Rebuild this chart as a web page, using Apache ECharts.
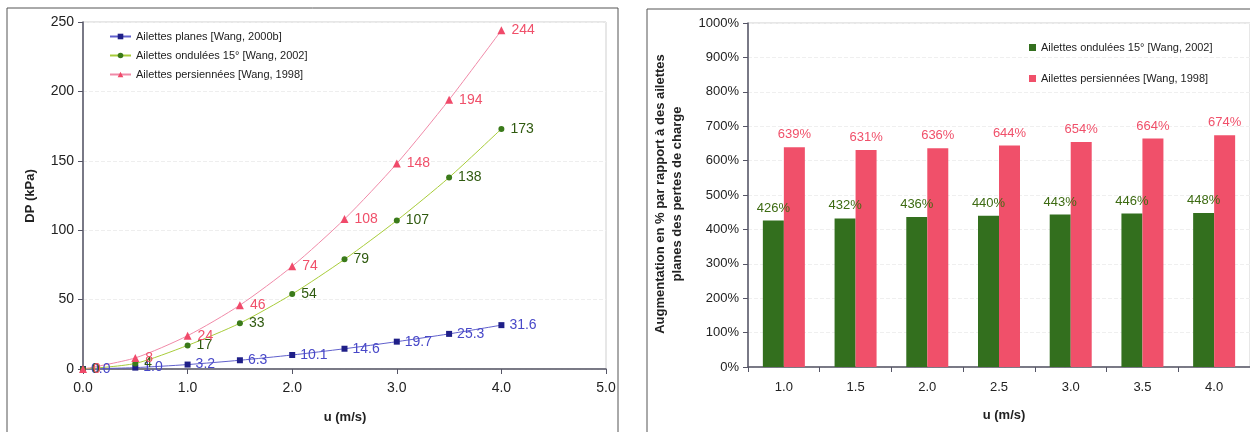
<!DOCTYPE html>
<html><head><meta charset="utf-8">
<script src="https://cdn.jsdelivr.net/npm/echarts@6/dist/echarts.min.js"></script>
<style>html,body{margin:0;padding:0;background:#fff}#c{width:1250px;height:432px}</style>
</head><body><div id="c"></div>
<script>
// ---- data ----
const speeds = [0, 0.5, 1.0, 1.5, 2.0, 2.5, 3.0, 3.5, 4.0];
const dpPlanes = [0.0, 1.0, 3.2, 6.3, 10.1, 14.6, 19.7, 25.3, 31.6];
const dpOndulees = [0, 4, 17, 33, 54, 79, 107, 138, 173];
const dpPersiennes = [0, 8, 24, 46, 74, 108, 148, 194, 244];
const barCategories = ['1.0', '1.5', '2.0', '2.5', '3.0', '3.5', '4.0'];
const incOndulees = [426, 432, 436, 440, 443, 446, 448];
const incPersiennes = [639, 631, 636, 644, 654, 664, 674];
const nameP = 'Ailettes planes [Wang, 2000b]';
const nameO = 'Ailettes ondulées 15° [Wang, 2002]';
const nameS = 'Ailettes persiennées [Wang, 1998]';
const nameO2 = 'Ailettes ondulées 15° [Wang, 2002] ';
const nameS2 = 'Ailettes persiennées [Wang, 1998] ';

const pairs = (ys) => speeds.map((x, i) => [x, ys[i]]);
const font = 'Liberation Sans, Arial, sans-serif';

const chart = echarts.init(document.getElementById('c'), null, {renderer: 'canvas'});
chart.setOption({
  animation: false,
  textStyle: {fontFamily: font},
  grid: [
    {left: 83, top: 22, width: 523, height: 347, show: true, borderColor: '#cfcfcf', borderWidth: 1},
    {left: 748, top: 23, width: 508, height: 344, show: true, borderColor: '#cfcfcf', borderWidth: 1}
  ],
  legend: [
    {data: [nameP, nameO, nameS], orient: 'vertical', left: 104, top: 26, itemGap: 8,
     itemWidth: 21, itemHeight: 7, textStyle: {fontSize: 11, color: '#222', fontFamily: font}},
    {data: [nameO2, nameS2], orient: 'vertical', left: 1024, top: 37, itemGap: 20, icon: 'rect',
     itemWidth: 7, itemHeight: 7, textStyle: {fontSize: 11, color: '#222', fontFamily: font}}
  ],
  xAxis: [
    {type: 'value', gridIndex: 0, min: 0, max: 5, interval: 1,
     axisLine: {lineStyle: {color: '#555566', width: 1.5}},
     axisTick: {show: true, length: 5, lineStyle: {color: '#555566'}},
     axisLabel: {fontSize: 14, color: '#222', margin: 12, formatter: v => v.toFixed(1)},
     splitLine: {show: false}},
    {type: 'category', gridIndex: 1, data: barCategories,
     axisLine: {lineStyle: {color: '#555566', width: 1.5}},
     axisTick: {show: true, length: 5, lineStyle: {color: '#555566'}},
     axisLabel: {fontSize: 13, color: '#222', margin: 14}}
  ],
  yAxis: [
    {type: 'value', gridIndex: 0, min: 0, max: 250, interval: 50,
     axisLine: {show: true, lineStyle: {color: '#555566', width: 1.5}},
     axisTick: {show: true, length: 5, lineStyle: {color: '#555566'}},
     axisLabel: {fontSize: 14, color: '#222', margin: 9},
     splitLine: {show: true, lineStyle: {color: '#eeeeee', type: 'dashed'}}},
    {type: 'value', gridIndex: 1, min: 0, max: 1000, interval: 100,
     axisLine: {show: true, lineStyle: {color: '#555566', width: 1.5}},
     axisTick: {show: true, length: 5, lineStyle: {color: '#555566'}},
     axisLabel: {fontSize: 13, color: '#222', margin: 9, formatter: v => String(v) + '%'},
     splitLine: {show: true, lineStyle: {color: '#efefef', type: 'dashed'}}}
  ],
  graphic: [
    {type: 'rect', shape: {x: 7, y: 8, width: 611, height: 440}, style: {fill: 'none', stroke: '#555', lineWidth: 1}, silent: true},
    {type: 'rect', shape: {x: 647, y: 9, width: 620, height: 440}, style: {fill: 'none', stroke: '#555', lineWidth: 1}, silent: true},
    {type: 'text', x: 30, y: 196, rotation: Math.PI / 2,
     style: {text: 'DP (kPa)', fontSize: 13, fontWeight: 'bold', fill: '#222', fontFamily: font, textAlign: 'center', textVerticalAlign: 'middle'}},
    {type: 'text', x: 345, y: 417,
     style: {text: 'u (m/s)', fontSize: 13, fontWeight: 'bold', fill: '#222', fontFamily: font, textAlign: 'center', textVerticalAlign: 'middle'}},
    {type: 'text', x: 669, y: 194, rotation: Math.PI / 2,
     style: {text: 'Augmentation en % par rapport à des ailettes\nplanes des pertes de charge', fontSize: 13, fontWeight: 'bold', lineHeight: 17, fill: '#222', fontFamily: font, textAlign: 'center', textVerticalAlign: 'middle'}},
    {type: 'text', x: 1004, y: 415,
     style: {text: 'u (m/s)', fontSize: 13, fontWeight: 'bold', fill: '#222', fontFamily: font, textAlign: 'center', textVerticalAlign: 'middle'}}
  ],
  series: [
    {name: nameP, type: 'line', xAxisIndex: 0, yAxisIndex: 0, data: pairs(dpPlanes), smooth: 0.25,
     symbol: 'rect', symbolSize: 6, itemStyle: {color: '#1f1f88'}, lineStyle: {color: '#6060cc', width: 1},
     label: {show: true, position: 'right', distance: 5, fontSize: 14, color: '#4848c8', formatter: p => p.value[1].toFixed(1)}},
    {name: nameO, type: 'line', xAxisIndex: 0, yAxisIndex: 0, data: pairs(dpOndulees), smooth: 0.25,
     symbol: 'circle', symbolSize: 6, itemStyle: {color: '#3a7a1a'}, lineStyle: {color: '#a8cc3a', width: 1},
     label: {show: true, position: 'right', distance: 6, fontSize: 14, color: '#2f5a0f', formatter: p => String(p.value[1])}},
    {name: nameS, type: 'line', xAxisIndex: 0, yAxisIndex: 0, data: pairs(dpPersiennes), smooth: 0.25,
     symbol: 'triangle', symbolSize: 8, itemStyle: {color: '#f04a6a'}, lineStyle: {color: '#f08aa8', width: 1},
     label: {show: true, position: 'right', distance: 6, fontSize: 14, color: '#f0506a', formatter: p => String(p.value[1])}},
    {name: nameO2, type: 'bar', xAxisIndex: 1, yAxisIndex: 1, data: incOndulees, barWidth: 21, barGap: '0%',
     itemStyle: {color: '#336f1e'},
     label: {show: true, position: 'top', distance: 6, fontSize: 13, color: '#3d6b12', formatter: '{c}%'}},
    {name: nameS2, type: 'bar', xAxisIndex: 1, yAxisIndex: 1, data: incPersiennes, barWidth: 21, barGap: '0%',
     itemStyle: {color: '#f0506a'},
     label: {show: true, position: 'top', distance: 6, fontSize: 13, color: '#f0506a', formatter: '{c}%'}}
  ]
});
</script></body></html>
